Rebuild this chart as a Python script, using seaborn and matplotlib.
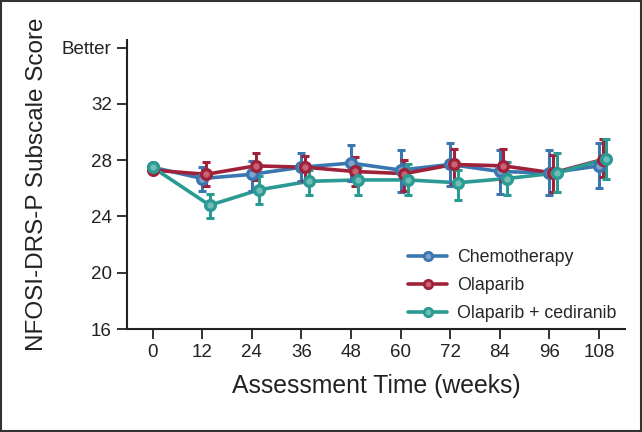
import matplotlib
matplotlib.use("Agg")
import matplotlib.pyplot as plt
import seaborn as sns
import pandas as pd
import numpy as np
from matplotlib.patches import Rectangle
from matplotlib.lines import Line2D

weeks = [0, 12, 24, 36, 48, 60, 72, 84, 96, 108]
groups = ["Chemotherapy", "Olaparib", "Olaparib + cediranib"]

chemo_mean = [27.5, 26.7, 27.0, 27.5, 27.8, 27.3, 27.7, 27.2, 27.1, 27.6]
chemo_lo   = [27.5, 25.8, 25.8, 26.5, 26.5, 25.75, 26.2, 25.6, 25.5, 26.0]
chemo_hi   = [27.5, 27.5, 27.95, 28.5, 29.1, 28.75, 29.2, 28.7, 28.7, 29.2]

ola_mean = [27.3, 27.0, 27.6, 27.5, 27.2, 27.05, 27.7, 27.6, 27.1, 28.05]
ola_lo   = [27.3, 26.2, 26.6, 26.5, 26.2, 25.8, 26.3, 26.5, 25.75, 26.8]
ola_hi   = [27.3, 27.9, 28.5, 28.3, 28.2, 28.05, 28.8, 28.8, 28.4, 29.5]

olaced_mean = [27.5, 24.8, 25.9, 26.5, 26.6, 26.6, 26.4, 26.7, 27.1, 28.1]
olaced_lo   = [27.5, 23.9, 24.9, 25.5, 25.5, 25.5, 25.2, 25.5, 25.75, 26.7]
olaced_hi   = [27.5, 25.6, 26.9, 27.3, 27.5, 27.75, 27.3, 27.9, 28.5, 29.5]

y_ticks = [16, 20, 24, 28, 32, 36]
y_ticklabels = ["16", "20", "24", "28", "32", "Better"]

colors = ["#3a77b0", "#a0213a", "#2a9a92"]
light = ["#7ea6cc", "#c56475", "#6fbdb6"]
offsets = [0.0, 0.9, 1.8]

sns.set_style("ticks")
plt.rcParams["font.family"] = ["Liberation Sans", "DejaVu Sans"]

means = [chemo_mean, ola_mean, olaced_mean]
los = [chemo_lo, ola_lo, olaced_lo]
his = [chemo_hi, ola_hi, olaced_hi]

rows = []
for g, m, lo, hi, off in zip(groups, means, los, his, offsets):
    for w, mv, l, h in zip(weeks, m, lo, hi):
        x = w + (off if w > 0 else 0.0)
        rows.append({"week": x, "score": mv, "lo": l, "hi": h, "group": g})
df = pd.DataFrame(rows)

fig = plt.figure(figsize=(6.42, 4.32), dpi=100)
ax = fig.add_axes([127/642, 1 - 329/432, (625 - 127)/642, (329 - 40)/432])

palette = dict(zip(groups, colors))
sns.lineplot(data=df, x="week", y="score", hue="group", palette=palette,
             hue_order=groups, linewidth=2.6, ax=ax, legend=False, sort=True)

for g, c, lc in zip(groups, colors, light):
    d = df[df.group == g]
    ax.errorbar(d.week, d.score, yerr=[d.score - d.lo, d.hi - d.score],
                fmt="none", ecolor=c, elinewidth=2.2, capsize=3.0, capthick=2.2, zorder=3)
    ax.plot(d.week, d.score, linestyle="none", marker="o", markersize=7,
            markerfacecolor=lc, markeredgecolor=c, markeredgewidth=2.4, zorder=4)

handles = [Line2D([0], [0], color=c, linewidth=2.6, marker="o", markersize=6,
                  markerfacecolor=lc, markeredgecolor=c, markeredgewidth=2.0)
           for c, lc in zip(colors, light)]
leg = fig.legend(handles, groups, loc="upper left", bbox_to_anchor=(408/642, 1 - 249/432),
                 frameon=False, fontsize=12.8, handlelength=2.2, handletextpad=0.55,
                 labelspacing=0.62, borderaxespad=0, borderpad=0)

ax.set_xlim(-6.2, 114.3)
ax.set_ylim(16, 36.55)
ax.set_xticks(weeks)
ax.set_xticklabels([str(w) for w in weeks], fontsize=13.5)
ax.set_yticks(y_ticks)
ax.set_yticklabels(y_ticklabels, fontsize=13.5)
ax.tick_params(axis="both", direction="out", length=7, width=1.3, color="#222222",
               labelcolor="#222222", pad=4)
for s in ["top", "right"]:
    ax.spines[s].set_visible(False)
for s in ["left", "bottom"]:
    ax.spines[s].set_linewidth(1.5)
    ax.spines[s].set_color("#222222")

ax.set_xlabel("Assessment Time (weeks)", fontsize=17.8, color="#222222", labelpad=9)
ax.set_ylabel("NFOSI-DRS-P Subscale Score", fontsize=17.5, color="#222222", labelpad=10)

fig.patches.append(Rectangle((0.002, 0.003), 0.996, 0.994, transform=fig.transFigure,
                             fill=False, edgecolor="#333333", linewidth=1.5))

fig.savefig("out.png", dpi=100)
